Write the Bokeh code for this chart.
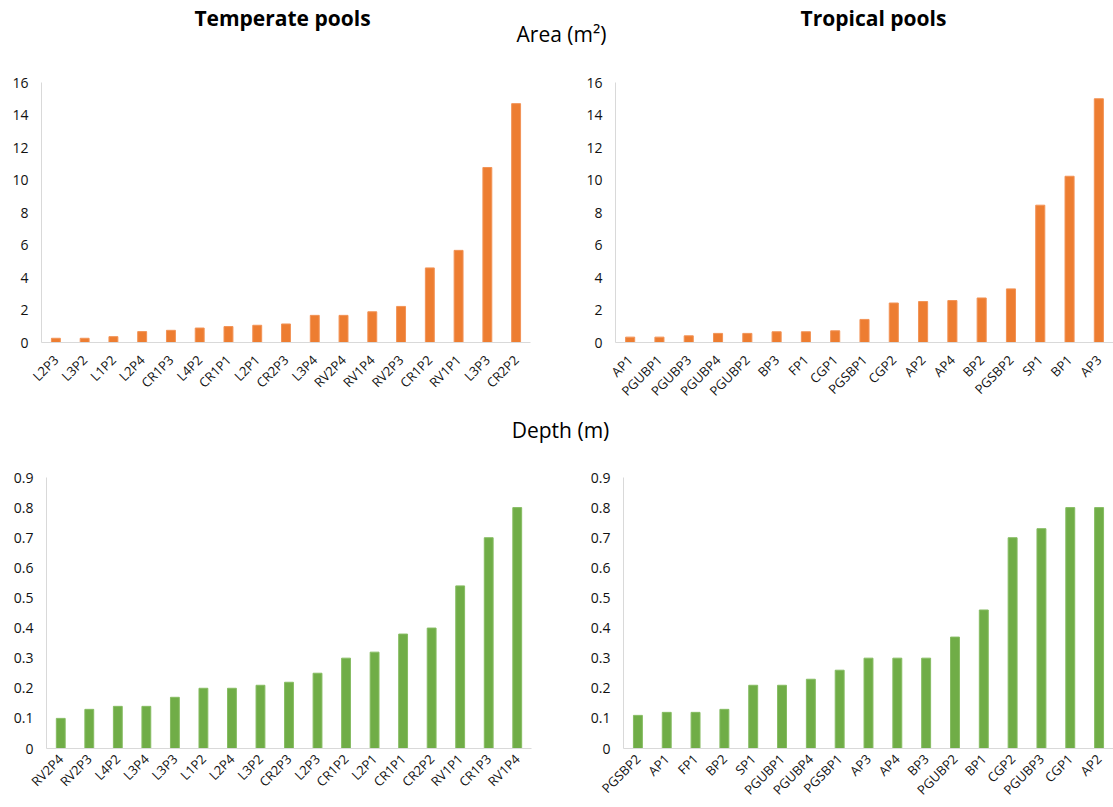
import math
from bokeh.plotting import figure
from bokeh.models import ColumnDataSource, FactorRange, Range1d, FixedTicker, Label
from bokeh.layouts import column, row
from bokeh.embed import file_html
from bokeh.resources import INLINE

FONT = "Open Sans"

# ---- data ----
temp_area_cats = ["L2P3", "L3P2", "L1P2", "L2P4", "CR1P3", "L4P2", "CR1P1", "L2P1", "CR2P3",
                  "L3P4", "RV2P4", "RV1P4", "RV2P3", "CR1P2", "RV1P1", "L3P3", "CR2P2"]
temp_area_vals = [0.26, 0.26, 0.36, 0.67, 0.75, 0.89, 0.98, 1.06, 1.14,
                  1.67, 1.67, 1.89, 2.22, 4.59, 5.67, 10.77, 14.7]

trop_area_cats = ["AP1", "PGUBP1", "PGUBP3", "PGUBP4", "PGUBP2", "BP3", "FP1", "CGP1", "PGSBP1",
                  "CGP2", "AP2", "AP4", "BP2", "PGSBP2", "SP1", "BP1", "AP3"]
trop_area_vals = [0.33, 0.33, 0.41, 0.56, 0.56, 0.66, 0.66, 0.72, 1.42,
                  2.43, 2.52, 2.58, 2.74, 3.30, 8.45, 10.23, 15.0]

temp_depth_cats = ["RV2P4", "RV2P3", "L4P2", "L3P4", "L3P3", "L1P2", "L2P4", "L3P2", "CR2P3",
                   "L2P3", "CR1P2", "L2P1", "CR1P1", "CR2P2", "RV1P1", "CR1P3", "RV1P4"]
temp_depth_vals = [0.10, 0.13, 0.14, 0.14, 0.17, 0.20, 0.20, 0.21, 0.22,
                   0.25, 0.30, 0.32, 0.38, 0.40, 0.54, 0.70, 0.80]

trop_depth_cats = ["PGSBP2", "AP1", "FP1", "BP2", "SP1", "PGUBP1", "PGUBP4", "PGSBP1", "AP3",
                   "AP4", "BP3", "PGUBP2", "BP1", "CGP2", "PGUBP3", "CGP1", "AP2"]
trop_depth_vals = [0.11, 0.12, 0.12, 0.13, 0.21, 0.21, 0.23, 0.26, 0.30,
                   0.30, 0.30, 0.37, 0.46, 0.70, 0.73, 0.80, 0.80]

area_ticks = [0, 2, 4, 6, 8, 10, 12, 14, 16]
area_tick_labels = ["0", "2", "4", "6", "8", "10", "12", "14", "16"]
depth_ticks = [0, 0.1, 0.2, 0.3, 0.4, 0.5, 0.6, 0.7, 0.8, 0.9]
depth_tick_labels = ["0", "0.1", "0.2", "0.3", "0.4", "0.5", "0.6", "0.7", "0.8", "0.9"]

ORANGE, ORANGE_LINE = "#ED7D31", "#F29356"
GREEN, GREEN_LINE = "#70AD47", "#86BC62"
TEXT = "#111111"
AXIS = "#D9D9D9"


def header(width, height, labels):
    p = figure(width=width, height=height, x_range=Range1d(0, width), y_range=Range1d(0, height),
               output_backend="svg", toolbar_location=None, min_border=0,
               x_axis_location=None, y_axis_location=None, outline_line_color=None)
    p.grid.visible = False
    for (x, y, txt, size, style) in labels:
        p.add_layout(Label(x=x, y=y, text=txt, text_align="center", text_baseline="alphabetic",
                           text_font=FONT, text_font_size=size, text_font_style=style,
                           text_color="#000000"))
    return p


def bar_panel(cats, vals, fill, line, ticks, tick_labels, width, height, ml, mr, mt, mb, xstand):
    src = ColumnDataSource(dict(cat=cats, val=vals))
    p = figure(x_range=FactorRange(factors=cats), y_range=Range1d(ticks[0], ticks[-1]),
               width=width, height=height, min_border_left=ml, min_border_right=mr,
               min_border_top=mt, min_border_bottom=mb,
               output_backend="svg", toolbar_location=None, outline_line_color=None)
    p.vbar(x="cat", top="val", width=0.31, source=src, fill_color=fill, line_color=line, line_width=1)
    p.grid.visible = False
    p.yaxis.ticker = FixedTicker(ticks=ticks)
    p.yaxis.major_label_overrides = {t: l for t, l in zip(ticks, tick_labels)}
    for ax in (p.xaxis[0], p.yaxis[0]):
        ax.axis_line_color = AXIS
        ax.axis_line_width = 1
        ax.major_tick_line_color = None
        ax.minor_tick_line_color = None
        ax.major_tick_out = 0
        ax.major_tick_in = 0
        ax.minor_tick_out = 0
        ax.minor_tick_in = 0
        ax.major_label_text_font = FONT
        ax.major_label_text_color = TEXT
    p.yaxis.major_label_text_font_size = "14px"
    p.yaxis.major_label_standoff = 13
    p.xaxis.major_label_text_font_size = "13px"
    p.xaxis.major_label_orientation = math.pi / 4
    p.xaxis.major_label_standoff = xstand
    return p


h1 = header(1113, 60, [
    (282, 43, "Temperate pools", "21px", "bold"),
    (873, 43, "Tropical pools", "21px", "bold"),
    (561, 27, "Area (m\u00b2)", "21px", "normal"),
])

tl = bar_panel(temp_area_cats, temp_area_vals, ORANGE, ORANGE_LINE, area_ticks, area_tick_labels,
               560, 354, 41, 30, 22, 72, 15)
tr = bar_panel(trop_area_cats, trop_area_vals, ORANGE, ORANGE_LINE, area_ticks, area_tick_labels,
               553, 354, 55, 0, 22, 72, 15)

h2 = header(1113, 36, [
    (560, 21, "Depth (m)", "21px", "normal"),
])

bl = bar_panel(temp_depth_cats, temp_depth_vals, GREEN, GREEN_LINE, depth_ticks, depth_tick_labels,
               560, 357, 46, 29, 27, 56, 8)
br = bar_panel(trop_depth_cats, trop_depth_vals, GREEN, GREEN_LINE, depth_ticks, depth_tick_labels,
               553, 357, 63, 0, 27, 56, 8)

layout = column(h1, row(tl, tr), h2, row(bl, br))

with open("out.html", "w") as f:
    f.write(file_html(layout, INLINE))
